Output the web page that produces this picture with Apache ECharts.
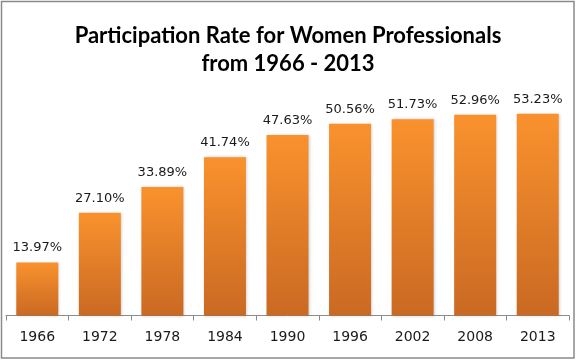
<!DOCTYPE html>
<html>
<head>
<meta charset="utf-8">
<script src="https://cdn.jsdelivr.net/npm/echarts@6/dist/echarts.min.js"></script>
<style>
html,body{margin:0;padding:0;background:#fff;}
#c{width:576px;height:360px;}
</style>
</head>
<body>
<div id="c"></div>
<script>
var years = ['1966','1972','1978','1984','1990','1996','2002','2008','2013'];
var rates = [13.97, 27.10, 33.89, 41.74, 47.63, 50.56, 51.73, 52.96, 53.23];
var titleLines = ['Participation Rate for Women Professionals', 'from 1966 - 2013'];

var chart = echarts.init(document.getElementById('c'), null, {renderer: 'canvas'});
chart.setOption({
  backgroundColor: '#ffffff',
  animation: false,
  title: {
    text: titleLines.join('\n'),
    left: 'center',
    top: 17,
    textStyle: {
      fontFamily: 'Lato',
      fontWeight: 'bold',
      fontSize: 22,
      lineHeight: 28,
      color: '#000000'
    }
  },
  graphic: [{
    type: 'rect',
    shape: {x: 1.5, y: 1.5, width: 572.5, height: 356.5},
    style: {fill: 'none', stroke: '#8a8a8a', lineWidth: 1.5},
    silent: true
  }],
  grid: {left: 6, right: 7, top: 88, bottom: 44.5},
  xAxis: {
    type: 'category',
    data: years,
    axisLine: {lineStyle: {color: '#8c8c8c', width: 1}},
    axisTick: {show: true, length: 5, lineStyle: {color: '#8c8c8c'}},
    axisLabel: {
      color: '#1a1a1a',
      fontFamily: 'DejaVu Sans',
      fontSize: 14,
      margin: 15
    }
  },
  yAxis: {
    type: 'value',
    min: 0,
    max: 60,
    show: false,
    splitLine: {show: false}
  },
  series: [{
    type: 'bar',
    data: rates,
    barWidth: 42,
    itemStyle: {
      color: new echarts.graphic.LinearGradient(0, 0, 0, 1, [
        {offset: 0, color: '#F9922D'},
        {offset: 1, color: '#CA6923'}
      ]),
      shadowColor: 'rgba(0,0,0,0.22)',
      shadowBlur: 3,
      shadowOffsetX: 1,
      shadowOffsetY: 0
    },
    label: {
      show: true,
      position: 'top',
      distance: 8,
      color: '#1a1a1a',
      fontFamily: 'DejaVu Sans',
      fontSize: 13,
      formatter: function (p) { return p.value.toFixed(2) + '%'; }
    }
  }]
});
</script>
</body>
</html>
